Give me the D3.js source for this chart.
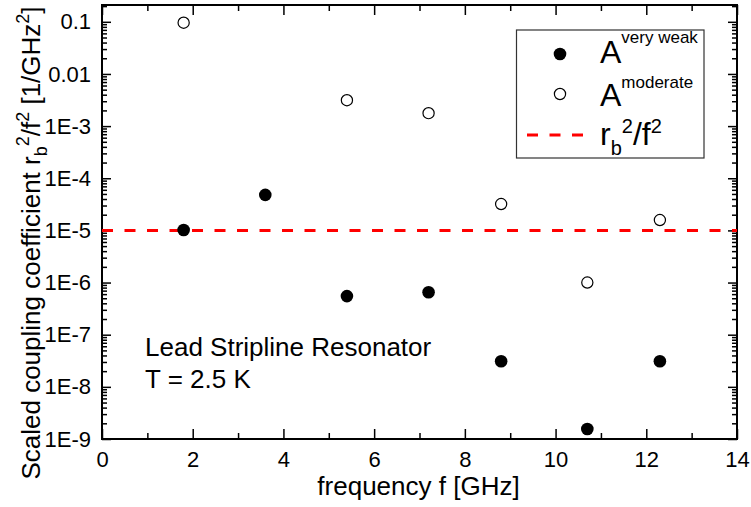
<!DOCTYPE html>
<html lang="en">
<head>
<meta charset="UTF-8" />
<title>Scaled coupling coefficient</title>
<script src="https://d3js.org/d3.v7.min.js"></script>
<style>
  body { margin: 0; background: #fff; }
  svg text { font-family: "Liberation Sans", Arial, sans-serif; fill: #000; }
</style>
</head>
<body>
<script>
var w = 751;
var h = 507;
var margin = {top: 5, right: 14, bottom: 68, left: 102};

// data
var weakFreq = [1.8, 3.6, 5.4, 7.2, 8.8, 10.7, 12.3];
var weakValues = [1.02e-5, 4.8e-5, 5.5e-7, 6.5e-7, 3.1e-8, 1.55e-9, 3.1e-8];
var moderateFreq = [1.8, 5.4, 7.2, 8.8, 10.7, 12.3];
var moderateValues = [0.096, 3.14e-3, 1.77e-3, 3.2e-5, 1.0e-6, 1.58e-5];
var rbLevel = 1e-5;

// ticks
var xTicks = [0, 2, 4, 6, 8, 10, 12, 14];
var xTickLabels = ["0", "2", "4", "6", "8", "10", "12", "14"];
var xMinorTicks = [1, 3, 5, 7, 9, 11, 13];
var yTicks = [0.1, 0.01, 1e-3, 1e-4, 1e-5, 1e-6, 1e-7, 1e-8, 1e-9];
var yTickLabels = ["0.1", "0.01", "1E-3", "1E-4", "1E-5", "1E-6", "1E-7", "1E-8", "1E-9"];

var svg = d3.select("body")
    .append("svg")
    .attr("width", w)
    .attr("height", h);

var x = d3.scaleLinear()
    .domain([0, 14])
    .range([margin.left, w - margin.right]);

var y = d3.scaleLog()
    .domain([1e-9, 0.21])
    .range([h - margin.bottom, margin.top]);

// minor log ticks 2..9 in every decade
var yMinorTicks = [];
for (var e = -9; e <= -1; e++) {
    for (var k = 2; k <= 9; k++) {
        var v = k * Math.pow(10, e);
        if (v <= y.domain()[1]) yMinorTicks.push(v);
    }
}

var x0 = margin.left, x1 = w - margin.right;
var y0 = h - margin.bottom, y1 = margin.top;

function styleAxis(g) {
    g.select(".domain").remove();
    g.selectAll("line").attr("stroke", "#000").attr("stroke-width", 1.5);
    g.selectAll("text").style("font-size", "22px").attr("fill", "#000");
}

// bottom axis
svg.append("g")
    .attr("transform", "translate(0," + y0 + ")")
    .call(d3.axisBottom(x).tickValues(xTicks)
        .tickFormat(function(d, i) { return xTickLabels[i]; })
        .tickSizeInner(-10).tickSizeOuter(0).tickPadding(12))
    .call(styleAxis);
svg.append("g")
    .attr("transform", "translate(0," + y0 + ")")
    .call(d3.axisBottom(x).tickValues(xMinorTicks).tickFormat("")
        .tickSizeInner(-6).tickSizeOuter(0))
    .call(styleAxis);

// top axis (mirror)
svg.append("g")
    .attr("transform", "translate(0," + y1 + ")")
    .call(d3.axisTop(x).tickValues(xTicks).tickFormat("")
        .tickSizeInner(-10).tickSizeOuter(0))
    .call(styleAxis);
svg.append("g")
    .attr("transform", "translate(0," + y1 + ")")
    .call(d3.axisTop(x).tickValues(xMinorTicks).tickFormat("")
        .tickSizeInner(-6).tickSizeOuter(0))
    .call(styleAxis);

// left axis
svg.append("g")
    .attr("transform", "translate(" + x0 + ",0)")
    .call(d3.axisLeft(y).tickValues(yTicks)
        .tickFormat(function(d, i) { return yTickLabels[i]; })
        .tickSizeInner(-9).tickSizeOuter(0).tickPadding(11))
    .call(styleAxis);
svg.append("g")
    .attr("transform", "translate(" + x0 + ",0)")
    .call(d3.axisLeft(y).tickValues(yMinorTicks).tickFormat("")
        .tickSizeInner(-5).tickSizeOuter(0))
    .call(styleAxis);

// right axis (mirror)
svg.append("g")
    .attr("transform", "translate(" + x1 + ",0)")
    .call(d3.axisRight(y).tickValues(yTicks).tickFormat("")
        .tickSizeInner(-9).tickSizeOuter(0))
    .call(styleAxis);
svg.append("g")
    .attr("transform", "translate(" + x1 + ",0)")
    .call(d3.axisRight(y).tickValues(yMinorTicks).tickFormat("")
        .tickSizeInner(-5).tickSizeOuter(0))
    .call(styleAxis);

// frame
svg.append("rect")
    .attr("x", x0).attr("y", y1)
    .attr("width", x1 - x0).attr("height", y0 - y1)
    .attr("fill", "none")
    .attr("stroke", "#000")
    .attr("stroke-width", 2);

// red dashed reference level
svg.append("line")
    .attr("x1", x0).attr("x2", x1)
    .attr("y1", y(rbLevel)).attr("y2", y(rbLevel))
    .attr("stroke", "#ff0000")
    .attr("stroke-width", 3)
    .attr("stroke-dasharray", "11,11.5");

// points
svg.selectAll("circle.moderate")
    .data(moderateValues)
    .enter().append("circle")
    .attr("class", "moderate")
    .attr("cx", function(d, i) { return x(moderateFreq[i]); })
    .attr("cy", function(d) { return y(d); })
    .attr("r", 5.6)
    .attr("fill", "#fff")
    .attr("stroke", "#000")
    .attr("stroke-width", 1.2);

svg.selectAll("circle.weak")
    .data(weakValues)
    .enter().append("circle")
    .attr("class", "weak")
    .attr("cx", function(d, i) { return x(weakFreq[i]); })
    .attr("cy", function(d) { return y(d); })
    .attr("r", 6.3)
    .attr("fill", "#000");

// axis titles
svg.append("text")
    .attr("x", (x0 + x1) / 2 - 1)
    .attr("y", 495)
    .attr("text-anchor", "middle")
    .style("font-size", "26px")
    .text("frequency f [GHz]");

var yTitle = svg.append("text")
    .attr("transform", "translate(40,243) rotate(-90)")
    .attr("text-anchor", "middle")
    .style("font-size", "26px");
yTitle.append("tspan").text("Scaled coupling coefficient r");
yTitle.append("tspan").attr("dy", 7).style("font-size", "18px").text("b");
yTitle.append("tspan").attr("dy", -18).style("font-size", "18px").text("2");
yTitle.append("tspan").attr("dy", 11).text("/f");
yTitle.append("tspan").attr("dy", -11).style("font-size", "18px").text("2");
yTitle.append("tspan").attr("dy", 11).text(" [1/GHz");
yTitle.append("tspan").attr("dy", -11).style("font-size", "18px").text("2");
yTitle.append("tspan").attr("dy", 11).text("]");

// annotation
svg.append("text").attr("x", 145).attr("y", 356)
    .style("font-size", "26px").text("Lead Stripline Resonator");
svg.append("text").attr("x", 145).attr("y", 388)
    .style("font-size", "26px").text("T = 2.5 K");

// legend
var legend = svg.append("g");
legend.append("rect")
    .attr("x", 516.5).attr("y", 30)
    .attr("width", 187.5).attr("height", 128)
    .attr("fill", "#fff")
    .attr("stroke", "#333")
    .attr("stroke-width", 1.2);
legend.append("circle").attr("cx", 560).attr("cy", 54).attr("r", 6.3).attr("fill", "#000");
legend.append("circle").attr("cx", 560).attr("cy", 94).attr("r", 5.6)
    .attr("fill", "#fff").attr("stroke", "#000").attr("stroke-width", 1.2);
legend.append("line")
    .attr("x1", 527).attr("x2", 583).attr("y1", 135).attr("y2", 135)
    .attr("stroke", "#ff0000").attr("stroke-width", 3)
    .attr("stroke-dasharray", "11,11.5");

var t1 = legend.append("text").attr("x", 600).attr("y", 63).style("font-size", "32px");
t1.append("tspan").text("A");
t1.append("tspan").attr("dy", -20).style("font-size", "17px").text("very weak");

var t2 = legend.append("text").attr("x", 600).attr("y", 106).style("font-size", "32px");
t2.append("tspan").text("A");
t2.append("tspan").attr("dy", -18).style("font-size", "17px").text("moderate");

var t3 = legend.append("text").attr("x", 600).attr("y", 145).style("font-size", "32px");
t3.append("tspan").text("r");
t3.append("tspan").attr("dy", 10).style("font-size", "20px").text("b");
t3.append("tspan").attr("dy", -22).style("font-size", "20px").text("2");
t3.append("tspan").attr("dy", 12).text("/f");
t3.append("tspan").attr("dy", -12).style("font-size", "20px").text("2");
</script>
</body>
</html>
